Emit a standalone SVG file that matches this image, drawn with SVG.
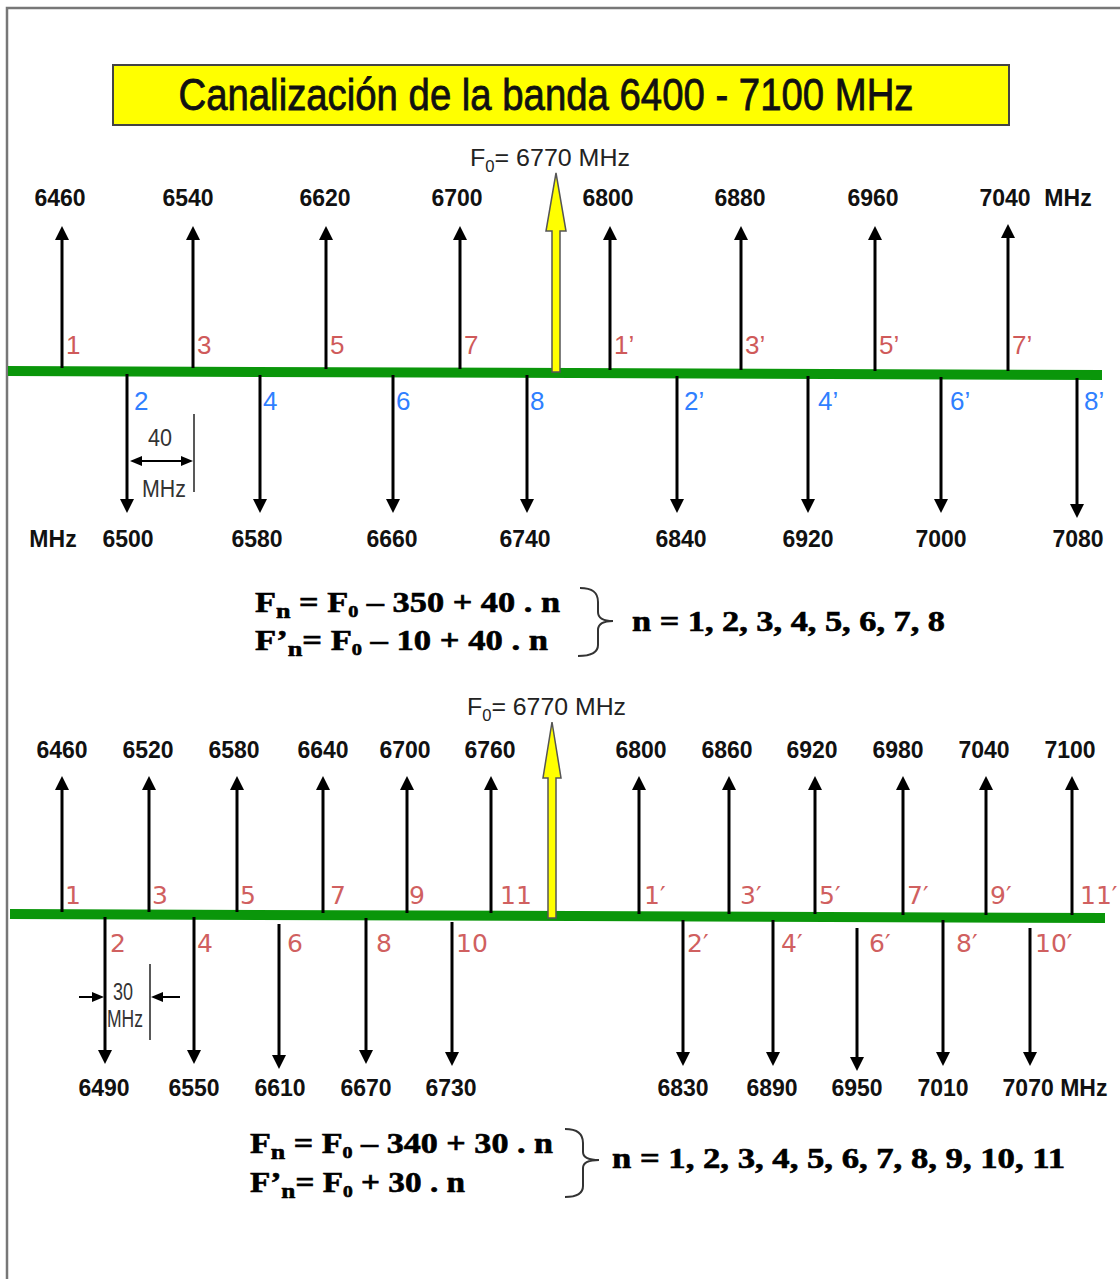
<svg xmlns="http://www.w3.org/2000/svg" width="1120" height="1279" viewBox="0 0 1120 1279">
<defs>
<marker id="ah" markerUnits="userSpaceOnUse" markerWidth="14" markerHeight="14" refX="0" refY="7" orient="auto" viewBox="0 0 14 14"><path d="M0,0 L14,7 L0,14 z" fill="#000"/></marker>
<marker id="ahs" markerUnits="userSpaceOnUse" markerWidth="12" markerHeight="10" refX="0" refY="5" orient="auto" viewBox="0 0 12 10"><path d="M0,0 L12,5 L0,10 z" fill="#000"/></marker>
<marker id="ahsr" markerUnits="userSpaceOnUse" markerWidth="12" markerHeight="10" refX="12" refY="5" orient="auto" viewBox="0 0 12 10"><path d="M12,0 L0,5 L12,10 z" fill="#000"/></marker>
</defs>
<style>
.arr{stroke:#000;stroke-width:3;fill:none;marker-end:url(#ah)}
.green{stroke:#0a960a;stroke-width:10;fill:none}
.yel{fill:#ffff00;stroke:#555;stroke-width:1.5}
.fq{font-family:"Liberation Sans",Arial,sans-serif;font-weight:bold;font-size:23px;fill:#111;text-anchor:middle}
.f0{font-family:"Liberation Sans",Arial,sans-serif;font-size:24px;fill:#222}
.red{font-family:"Liberation Sans",Arial,sans-serif;font-size:26px;fill:#cf5a5a}
.blue{font-family:"Liberation Sans",Arial,sans-serif;font-size:26px;fill:#2f7fff}
.red2{font-family:"DejaVu Sans",Verdana,sans-serif;font-size:25px;fill:#d06060}
.dim{font-family:"Liberation Sans",Arial,sans-serif;font-size:23px;fill:#333;text-anchor:middle}
.form{font-family:"Liberation Serif","Times New Roman",serif;font-weight:bold;font-size:29px;fill:#000;stroke:#000;stroke-width:0.6}
.brace{stroke:#333;stroke-width:2;fill:none}
</style>
<rect x="0" y="0" width="1120" height="1279" fill="#fff"/>
<path d="M7,1279 L7,8 L1120,8" stroke="#777" stroke-width="2.5" fill="none"/>

<g id="title">
<rect x="113" y="65" width="896" height="60" fill="#ffff00" stroke="#444" stroke-width="2"/>
<text x="546" y="110" font-family="'Liberation Sans',Arial,sans-serif" font-size="45" fill="#111" stroke="#111" stroke-width="0.8" text-anchor="middle" textLength="735" lengthAdjust="spacingAndGlyphs">Canalización de la banda 6400 - 7100 MHz</text>
</g>

<!-- ===== TOP PLAN ===== -->
<g id="connectors-top">
<line class="green" x1="8" y1="371" x2="1102" y2="375"/>
<line class="arr" x1="62" y1="368" x2="62" y2="240"/>
<line class="arr" x1="193" y1="368" x2="193" y2="240"/>
<line class="arr" x1="326" y1="369" x2="326" y2="240"/>
<line class="arr" x1="460" y1="369" x2="460" y2="240"/>
<line class="arr" x1="610" y1="370" x2="610" y2="240"/>
<line class="arr" x1="741" y1="370" x2="741" y2="240"/>
<line class="arr" x1="875" y1="371" x2="875" y2="240"/>
<line class="arr" x1="1008" y1="371" x2="1008" y2="238"/>
<line class="arr" x1="127" y1="374" x2="127" y2="499"/>
<line class="arr" x1="260" y1="375" x2="260" y2="499"/>
<line class="arr" x1="393" y1="375" x2="393" y2="499"/>
<line class="arr" x1="527" y1="375" x2="527" y2="499"/>
<line class="arr" x1="677" y1="376" x2="677" y2="499"/>
<line class="arr" x1="808" y1="376" x2="808" y2="499"/>
<line class="arr" x1="941" y1="377" x2="941" y2="499"/>
<line class="arr" x1="1077" y1="378" x2="1077" y2="504"/>
<path class="yel" d="M552,372 L552,231 L546,231 L556,173 L566,231 L560,231 L560,372 Z"/>
</g>
<g id="f0-top"><text class="f0" x="470" y="166" textLength="160" lengthAdjust="spacingAndGlyphs">F<tspan font-size="16" dy="6">0</tspan><tspan dy="-6">= 6770 MHz</tspan></text></g>
<g id="labels-top-up">
<text class="fq" x="60" y="206">6460</text>
<text class="fq" x="188" y="206">6540</text>
<text class="fq" x="325" y="206">6620</text>
<text class="fq" x="457" y="206">6700</text>
<text class="fq" x="608" y="206">6800</text>
<text class="fq" x="740" y="206">6880</text>
<text class="fq" x="873" y="206">6960</text>
<text class="fq" x="1005" y="206">7040</text>
<text class="fq" x="1068" y="206">MHz</text>
</g>
<g id="channels-top">
<text class="red" x="66" y="354">1</text>
<text class="red" x="197" y="354">3</text>
<text class="red" x="330" y="354">5</text>
<text class="red" x="464" y="354">7</text>
<text class="red" x="614" y="354">1’</text>
<text class="red" x="745" y="354">3’</text>
<text class="red" x="879" y="354">5’</text>
<text class="red" x="1012" y="354">7’</text>
<text class="blue" x="134" y="410">2</text>
<text class="blue" x="263" y="410">4</text>
<text class="blue" x="396" y="410">6</text>
<text class="blue" x="530" y="410">8</text>
<text class="blue" x="684" y="410">2’</text>
<text class="blue" x="818" y="410">4’</text>
<text class="blue" x="950" y="410">6’</text>
<text class="blue" x="1084" y="410">8’</text>
</g>
<g id="labels-top-down">
<text class="fq" x="53" y="547">MHz</text>
<text class="fq" x="128" y="547">6500</text>
<text class="fq" x="257" y="547">6580</text>
<text class="fq" x="392" y="547">6660</text>
<text class="fq" x="525" y="547">6740</text>
<text class="fq" x="681" y="547">6840</text>
<text class="fq" x="808" y="547">6920</text>
<text class="fq" x="941" y="547">7000</text>
<text class="fq" x="1078" y="547">7080</text>
</g>
<g id="dim-40">
<line x1="194" y1="414" x2="194" y2="492" stroke="#222" stroke-width="1.5"/>
<line x1="142" y1="461" x2="181" y2="461" stroke="#000" stroke-width="2" marker-start="url(#ahsr)" marker-end="url(#ahs)"/>
<text class="dim" x="160" y="446" textLength="24" lengthAdjust="spacingAndGlyphs">40</text>
<text class="dim" x="164" y="497" textLength="44" lengthAdjust="spacingAndGlyphs">MHz</text>
</g>
<g id="formula-top">
<text class="form" x="255" y="612" textLength="305" lengthAdjust="spacingAndGlyphs">F<tspan font-size="22" dy="6">n</tspan><tspan dy="-6"> = F</tspan><tspan font-size="17" dy="5">0</tspan><tspan dy="-5"> – 350 + 40 . n</tspan></text>
<text class="form" x="255" y="650" textLength="293" lengthAdjust="spacingAndGlyphs">F’<tspan font-size="22" dy="6">n</tspan><tspan dy="-6">= F</tspan><tspan font-size="17" dy="5">0</tspan><tspan dy="-5"> – 10  + 40 . n</tspan></text>
<path class="brace" d="M580,588 C592,588 598,592 598,602 L598,612 C598,618 604,621 613,621 C604,621 598,624 598,630 L598,645 C598,652 592,656 578,656"/>
<text class="form" x="632" y="631" textLength="313" lengthAdjust="spacingAndGlyphs">n = 1, 2, 3, 4, 5, 6, 7, 8</text>
</g>

<!-- ===== BOTTOM PLAN ===== -->
<g id="connectors-bottom">
<line class="green" x1="10" y1="914" x2="1105" y2="918"/>
<line class="arr" x1="62" y1="912" x2="62" y2="790"/>
<line class="arr" x1="149" y1="912" x2="149" y2="790"/>
<line class="arr" x1="237" y1="912" x2="237" y2="790"/>
<line class="arr" x1="323" y1="913" x2="323" y2="790"/>
<line class="arr" x1="407" y1="913" x2="407" y2="790"/>
<line class="arr" x1="491" y1="913" x2="491" y2="790"/>
<line class="arr" x1="639" y1="914" x2="639" y2="790"/>
<line class="arr" x1="729" y1="914" x2="729" y2="790"/>
<line class="arr" x1="815" y1="914" x2="815" y2="790"/>
<line class="arr" x1="903" y1="915" x2="903" y2="790"/>
<line class="arr" x1="986" y1="915" x2="986" y2="790"/>
<line class="arr" x1="1072" y1="915" x2="1072" y2="790"/>
<line class="arr" x1="105" y1="917" x2="105" y2="1050"/>
<line class="arr" x1="194" y1="917" x2="194" y2="1050"/>
<line class="arr" x1="279" y1="924" x2="279" y2="1055"/>
<line class="arr" x1="366" y1="918" x2="366" y2="1050"/>
<line class="arr" x1="452" y1="922" x2="452" y2="1052"/>
<line class="arr" x1="683" y1="920" x2="683" y2="1052"/>
<line class="arr" x1="773" y1="920" x2="773" y2="1052"/>
<line class="arr" x1="857" y1="928" x2="857" y2="1057"/>
<line class="arr" x1="943" y1="920" x2="943" y2="1052"/>
<line class="arr" x1="1030" y1="928" x2="1030" y2="1052"/>
<path class="yel" d="M548,918 L548,778 L543,778 L552,722 L561,778 L556,778 L556,918 Z"/>
</g>
<g id="f0-bottom"><text class="f0" x="467" y="715" textLength="159" lengthAdjust="spacingAndGlyphs">F<tspan font-size="16" dy="6">0</tspan><tspan dy="-6">= 6770 MHz</tspan></text></g>
<g id="labels-bottom-up">
<text class="fq" x="62" y="758">6460</text>
<text class="fq" x="148" y="758">6520</text>
<text class="fq" x="234" y="758">6580</text>
<text class="fq" x="323" y="758">6640</text>
<text class="fq" x="405" y="758">6700</text>
<text class="fq" x="490" y="758">6760</text>
<text class="fq" x="641" y="758">6800</text>
<text class="fq" x="727" y="758">6860</text>
<text class="fq" x="812" y="758">6920</text>
<text class="fq" x="898" y="758">6980</text>
<text class="fq" x="984" y="758">7040</text>
<text class="fq" x="1070" y="758">7100</text>
</g>
<g id="channels-bottom">
<text class="red2" x="65" y="904">1</text>
<text class="red2" x="152" y="904">3</text>
<text class="red2" x="240" y="904">5</text>
<text class="red2" x="330" y="904">7</text>
<text class="red2" x="409" y="904">9</text>
<text class="red2" x="500" y="904">11</text>
<text class="red2" x="644" y="904">1′</text>
<text class="red2" x="740" y="904">3′</text>
<text class="red2" x="819" y="904">5′</text>
<text class="red2" x="907" y="904">7′</text>
<text class="red2" x="990" y="904">9′</text>
<text class="red2" x="1080" y="904">11′</text>
<text class="red2" x="110" y="952">2</text>
<text class="red2" x="197" y="952">4</text>
<text class="red2" x="287" y="952">6</text>
<text class="red2" x="376" y="952">8</text>
<text class="red2" x="456" y="952">10</text>
<text class="red2" x="687" y="952">2′</text>
<text class="red2" x="781" y="952">4′</text>
<text class="red2" x="869" y="952">6′</text>
<text class="red2" x="956" y="952">8′</text>
<text class="red2" x="1035" y="952">10′</text>
</g>
<g id="labels-bottom-down">
<text class="fq" x="104" y="1096">6490</text>
<text class="fq" x="194" y="1096">6550</text>
<text class="fq" x="280" y="1096">6610</text>
<text class="fq" x="366" y="1096">6670</text>
<text class="fq" x="451" y="1096">6730</text>
<text class="fq" x="683" y="1096">6830</text>
<text class="fq" x="772" y="1096">6890</text>
<text class="fq" x="857" y="1096">6950</text>
<text class="fq" x="943" y="1096">7010</text>
<text class="fq" x="1055" y="1096">7070 MHz</text>
</g>
<g id="dim-30">
<line x1="150" y1="964" x2="150" y2="1040" stroke="#222" stroke-width="1.5"/>
<line x1="79" y1="997" x2="92" y2="997" stroke="#000" stroke-width="2" marker-end="url(#ahs)"/>
<line x1="180" y1="997" x2="163" y2="997" stroke="#000" stroke-width="2" marker-end="url(#ahs)"/>
<text class="dim" x="123" y="1000" font-size="20" textLength="20" lengthAdjust="spacingAndGlyphs">30</text>
<text class="dim" x="125" y="1027" font-size="20" textLength="36" lengthAdjust="spacingAndGlyphs">MHz</text>
</g>
<g id="formula-bottom">
<text class="form" x="250" y="1153" textLength="303" lengthAdjust="spacingAndGlyphs">F<tspan font-size="22" dy="6">n</tspan><tspan dy="-6"> = F</tspan><tspan font-size="17" dy="5">0</tspan><tspan dy="-5"> – 340 + 30 . n</tspan></text>
<text class="form" x="250" y="1192" textLength="215" lengthAdjust="spacingAndGlyphs">F’<tspan font-size="22" dy="6">n</tspan><tspan dy="-6">= F</tspan><tspan font-size="17" dy="5">0</tspan><tspan dy="-5"> + 30 . n</tspan></text>
<path class="brace" d="M565,1129 C577,1129 583,1133 583,1143 L583,1152 C583,1157 589,1160 599,1160 C589,1160 583,1163 583,1168 L583,1186 C583,1193 577,1197 565,1197"/>
<text class="form" x="612" y="1168" textLength="453" lengthAdjust="spacingAndGlyphs">n = 1, 2, 3, 4, 5, 6, 7, 8, 9, 10, 11</text>
</g>
</svg>
